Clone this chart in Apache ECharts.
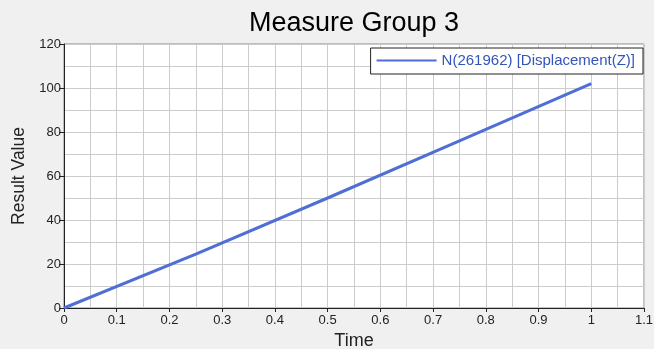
<!DOCTYPE html>
<html><head><meta charset="utf-8">
<script src="https://cdn.jsdelivr.net/npm/echarts@6/dist/echarts.min.js"></script>
<style>html,body{margin:0;padding:0;background:#f0f0f0;}#c{width:654px;height:349px;}</style>
</head><body><div id="c"></div>
<script>
const times = [0, 0.25, 0.5, 0.75, 1];
const values = [0, 24.5, 50, 76, 102];
const seriesName = 'N(261962) [Displacement(Z)]';
const chart = echarts.init(document.getElementById('c'));
const lblFont = {color:'#222', fontFamily:'Liberation Sans Narrow, Liberation Sans, sans-serif', fontSize:13};
chart.setOption({
  backgroundColor:'#f0f0f0',
  animation:false,
  title:{text:'Measure Group 3', left:244, top:5, textStyle:{fontFamily:'Liberation Sans, Arial, sans-serif', fontWeight:'normal', fontSize:27, color:'#000'}},
  legend:{show:true, right:11, top:48, orient:'horizontal', backgroundColor:'#fff', borderColor:'#222', borderWidth:1, borderRadius:0, padding:[5,8,6,6], itemWidth:60, itemHeight:2, itemGap:4,
    textStyle:{color:'#3355bb', fontFamily:'Liberation Sans, Arial, sans-serif', fontSize:15}, icon:'rect', data:[seriesName]},
  grid:{left:64, right:10, top:44, bottom:41, outerBoundsMode:'none', containLabel:false, show:true, backgroundColor:'#fff', borderColor:'#888', borderWidth:1},
  xAxis:{type:'value', min:0, max:1.1, interval:0.1, name:'Time', nameLocation:'middle', nameGap:24,
    nameTextStyle:{fontFamily:'Liberation Sans, Arial, sans-serif', fontSize:18, color:'#222'},
    axisLine:{show:true, onZero:false, lineStyle:{color:'#222'}}, axisTick:{show:true, length:4, lineStyle:{color:'#222'}},
    axisLabel:Object.assign({margin:6, formatter:v=>String(Math.round(v*10)/10)}, lblFont),
    splitLine:{show:true, lineStyle:{color:'#cccccc'}},
    minorTick:{show:false, splitNumber:2}, minorSplitLine:{show:true, lineStyle:{color:'#cccccc'}}},
  yAxis:{type:'value', min:0, max:120, interval:20, name:'Result Value', nameLocation:'middle', nameGap:35,
    nameTextStyle:{fontFamily:'Liberation Sans, Arial, sans-serif', fontSize:17.5, color:'#222'},
    axisLine:{show:true, lineStyle:{color:'#222'}}, axisTick:{show:true, length:5, lineStyle:{color:'#222'}},
    axisLabel:Object.assign({margin:3}, lblFont),
    splitLine:{show:true, lineStyle:{color:'#cccccc'}},
    minorTick:{show:false, splitNumber:2}, minorSplitLine:{show:true, lineStyle:{color:'#cccccc'}}},
  series:[{name:seriesName, type:'line', data:times.map((t,i)=>[t, values[i]]), showSymbol:false, symbol:'none',
    lineStyle:{color:'#4f6fd6', width:3}, itemStyle:{color:'#4f6fd6'}}]
});
</script></body></html>
